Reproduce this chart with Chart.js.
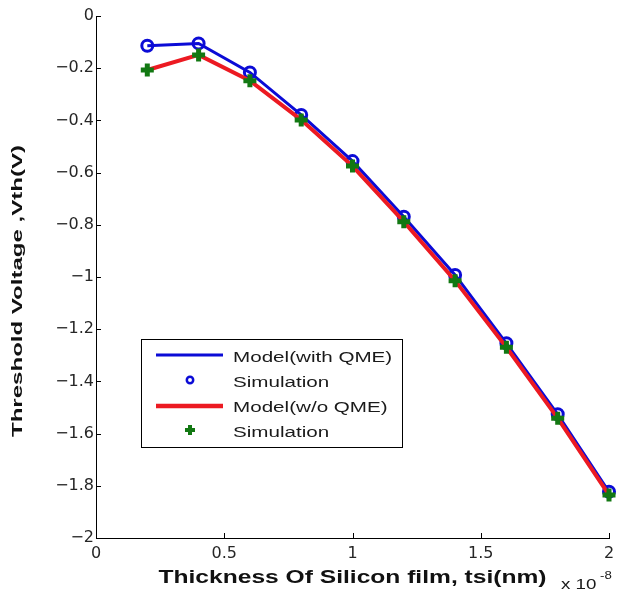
<!DOCTYPE html>
<html>
<head>
<meta charset="utf-8">
<title>Threshold Voltage vs Thickness Of Silicon film</title>
<script src="https://cdn.jsdelivr.net/npm/chart.js@4.4.1/dist/chart.umd.min.js"></script>
<style>
  body { margin: 0; background: #fff; }
  canvas { display: block; }
</style>
</head>
<body>
<canvas id="myChart" width="625" height="591"></canvas>
<script>
// film thickness, in units of 1e-8 (see the "x 10^-8" note on the axis)
var thickness = [0.2, 0.4, 0.6, 0.8, 1.0, 1.2, 1.4, 1.6, 1.8, 2.0];

// threshold voltage Vth (V)
var modelWithQME    = [-0.114, -0.105, -0.216, -0.379, -0.556, -0.769, -0.992, -1.254, -1.526, -1.823];
var simWithQME      = [-0.114, -0.105, -0.216, -0.379, -0.556, -0.769, -0.992, -1.254, -1.526, -1.823];
var modelWithoutQME = [-0.207, -0.149, -0.248, -0.398, -0.575, -0.788, -1.014, -1.269, -1.541, -1.835];
var simWithoutQME   = [-0.207, -0.149, -0.248, -0.398, -0.575, -0.788, -1.014, -1.269, -1.541, -1.835];

var xTicks = [0, 0.5, 1, 1.5, 2];
var yTicks = [0, -0.2, -0.4, -0.6, -0.8, -1, -1.2, -1.4, -1.6, -1.8, -2];

var legendLabels = ['Model(with QME)', 'Simulation', 'Model(w/o QME)', 'Simulation'];
var xTitle = 'Thickness Of Silicon film, tsi(nm)';
var yTitle = 'Threshold Voltage ,Vth(V)';

var BLUE = '#0b0bd6';
var RED = '#ec1a22';
var GREEN = '#127812';
var FONT = '"DejaVu Sans", sans-serif';
var ARIAL = '"Liberation Sans", Arial, sans-serif';

function points(xs, ys) {
  return xs.map(function (x, i) { return { x: x, y: ys[i] }; });
}

function fmt(v) {
  return v < 0 ? '\u2212' + String(Math.abs(v)) : String(v);
}

// matlab style text is a bit wider than our fonts, so allow a stretch
function drawText(ctx, text, x, y, font, opts) {
  opts = opts || {};
  ctx.save();
  ctx.translate(x, y);
  if (opts.angle) ctx.rotate(opts.angle);
  ctx.font = font;
  var sx = opts.sx || 1;
  if (opts.width) sx = opts.width / ctx.measureText(text).width;
  ctx.scale(sx, 1);
  ctx.fillStyle = opts.color || '#1a1a1a';
  ctx.textAlign = opts.align || 'left';
  ctx.textBaseline = opts.baseline || 'alphabetic';
  ctx.fillText(text, 0, 0);
  ctx.restore();
}

// ticks point inwards, like in matlab
var axisTicks = {
  id: 'axisTicks',
  beforeDatasetsDraw: function (chart) {
    var ctx = chart.ctx, a = chart.chartArea;
    var xs = chart.scales.x, ys = chart.scales.y;
    ctx.save();
    ctx.strokeStyle = '#000';
    ctx.lineWidth = 1;
    ctx.beginPath();
    xTicks.forEach(function (v) {
      var px = Math.round(xs.getPixelForValue(v)) + 0.5;
      ctx.moveTo(px, a.bottom);
      ctx.lineTo(px, a.bottom - 5);
    });
    yTicks.forEach(function (v) {
      var py = Math.round(ys.getPixelForValue(v)) + 0.5;
      ctx.moveTo(a.left, py);
      ctx.lineTo(a.left + 5, py);
    });
    ctx.stroke();
    ctx.restore();
  }
};

var titlesAndLegend = {
  id: 'titlesAndLegend',
  afterDraw: function (chart) {
    var ctx = chart.ctx, a = chart.chartArea;

    drawText(ctx, xTitle, (a.left + a.right) / 2, 583, 'bold 17.5px ' + ARIAL, { width: 388, align: 'center', color: '#111' });
    drawText(ctx, 'x 10', 561, 589, '15px ' + ARIAL, { sx: 1.25 });
    drawText(ctx, '-8', 600, 579, '11px ' + ARIAL, { sx: 1.2 });
    drawText(ctx, yTitle, 18, 291, 'bold 15px ' + ARIAL, { width: 292, angle: -Math.PI / 2, align: 'center', baseline: 'middle', color: '#111' });

    // legend box
    ctx.save();
    ctx.fillStyle = '#fff';
    ctx.fillRect(141.5, 339.5, 261, 108);
    ctx.strokeStyle = '#000';
    ctx.lineWidth = 1;
    ctx.strokeRect(141.5, 339.5, 261, 108);

    ctx.lineCap = 'butt';
    ctx.strokeStyle = BLUE;
    ctx.lineWidth = 3;
    ctx.beginPath();
    ctx.moveTo(156, 355);
    ctx.lineTo(223, 355);
    ctx.stroke();

    ctx.lineWidth = 2.5;
    ctx.beginPath();
    ctx.arc(190, 380, 3.2, 0, Math.PI * 2);
    ctx.stroke();

    ctx.strokeStyle = RED;
    ctx.lineWidth = 4.5;
    ctx.beginPath();
    ctx.moveTo(156, 406);
    ctx.lineTo(223, 406);
    ctx.stroke();

    ctx.strokeStyle = GREEN;
    ctx.lineWidth = 4;
    ctx.beginPath();
    ctx.moveTo(185, 430);
    ctx.lineTo(195, 430);
    ctx.moveTo(190, 425);
    ctx.lineTo(190, 435);
    ctx.stroke();
    ctx.restore();

    var baselines = [361.7, 387.3, 411.7, 437.3];
    legendLabels.forEach(function (label, i) {
      drawText(ctx, label, 233, baselines[i], '15.5px ' + ARIAL, { sx: 1.33 });
    });
  }
};

var ctx = document.getElementById('myChart').getContext('2d');
var myChart = new Chart(ctx, {
  type: 'line',
  data: {
    datasets: [
      {
        label: legendLabels[0],
        data: points(thickness, modelWithQME),
        borderColor: BLUE,
        borderWidth: 3,
        pointRadius: 0,
        tension: 0,
        clip: false,
        order: 4
      },
      {
        label: legendLabels[1],
        data: points(thickness, simWithQME),
        showLine: false,
        pointStyle: 'circle',
        pointRadius: 5.5,
        pointBorderWidth: 3,
        pointBorderColor: BLUE,
        pointBackgroundColor: 'rgba(0,0,0,0)',
        clip: false,
        order: 3
      },
      {
        label: legendLabels[2],
        data: points(thickness, modelWithoutQME),
        borderColor: RED,
        borderWidth: 4,
        pointRadius: 0,
        tension: 0,
        clip: false,
        order: 2
      },
      {
        label: legendLabels[3],
        data: points(thickness, simWithoutQME),
        showLine: false,
        pointStyle: 'cross',
        pointRadius: 6.5,
        pointBorderWidth: 5,
        pointBorderColor: GREEN,
        clip: false,
        order: 1
      }
    ]
  },
  plugins: [axisTicks, titlesAndLegend],
  options: {
    responsive: false,
    animation: false,
    events: [],
    layout: { padding: { left: 0, top: 16, right: 16, bottom: 0 } },
    plugins: {
      legend: { display: false },
      tooltip: { enabled: false }
    },
    scales: {
      x: {
        type: 'linear',
        min: 0,
        max: 2,
        afterBuildTicks: function (s) { s.ticks = xTicks.map(function (v) { return { value: v }; }); },
        afterFit: function (s) { s.height = 53; },
        grid: { display: true, drawOnChartArea: false, drawTicks: false },
        border: { display: true, color: '#000', width: 1 },
        ticks: {
          autoSkip: false,
          maxRotation: 0,
          padding: 6,
          color: '#262626',
          font: { family: FONT, size: 16 },
          callback: function (v) { return fmt(v); }
        }
      },
      y: {
        type: 'linear',
        min: -2,
        max: 0,
        afterBuildTicks: function (s) { s.ticks = yTicks.map(function (v) { return { value: v }; }); },
        afterFit: function (s) { s.width = 96; },
        grid: { display: true, drawOnChartArea: false, drawTicks: false },
        border: { display: true, color: '#000', width: 1 },
        ticks: {
          autoSkip: false,
          padding: 2,
          color: '#262626',
          font: { family: FONT, size: 16 },
          callback: function (v) { return fmt(v); }
        }
      }
    }
  }
});
</script>
</body>
</html>
